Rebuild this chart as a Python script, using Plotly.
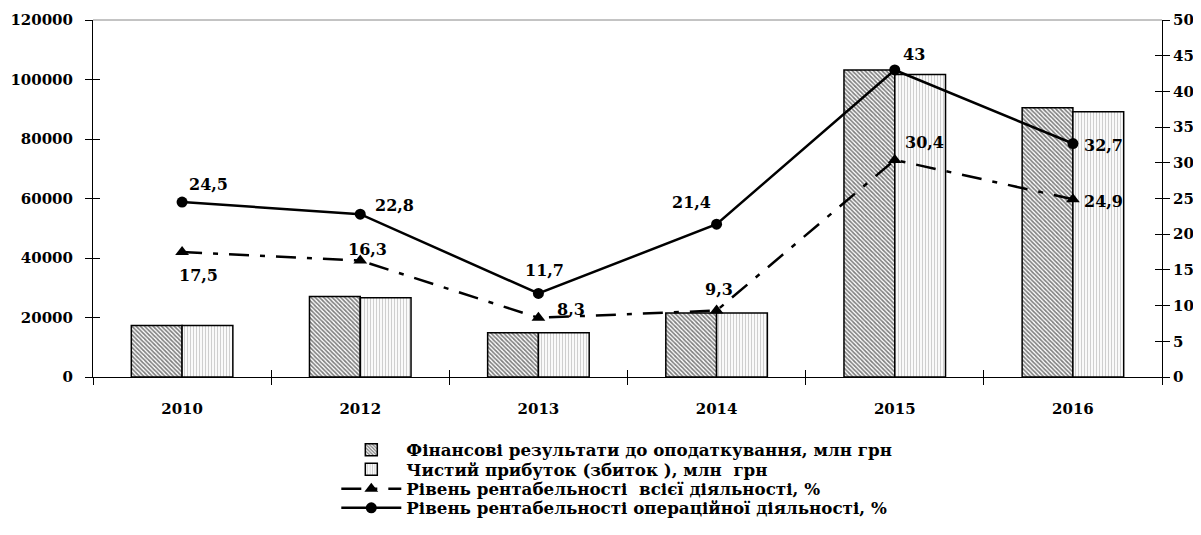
import plotly.graph_objects as go

years = ["2010", "2012", "2013", "2014", "2015", "2016"]
fin_results = [17300, 27100, 14900, 21500, 103200, 90500]
net_profit = [17300, 26600, 14900, 21500, 101700, 89200]
rent_all = [17.5, 16.3, 8.3, 9.3, 30.4, 24.9]
rent_oper = [24.5, 22.8, 11.7, 21.4, 43, 32.7]

name_fin = "Фінансові результати до оподаткування, млн грн"
name_net = "Чистий прибуток (збиток ), млн  грн"
name_all = "Рівень рентабельності  всієї діяльності, %"
name_oper = "Рівень рентабельності операційної діяльності, %"

# label offsets from their point, in pixels (dx, dy with +dy = up)
off_all = [(16, -23), (7, 11), (33, 8), (2, 21), (30, 17), (31, -2)]
off_oper = [(26, 18), (34, 9), (6, 23), (-25, 22), (19, 15), (31, -2)]

def fmt(v):
    return (f"{v:g}").replace(".", ",")

FONT = "DejaVu Serif"
TICKF = dict(family=FONT, size=15, color="black", weight="bold")
LABF = dict(family=FONT, size=16, color="black", weight="bold")
LEGF = dict(family=FONT, size=16.7, color="black", weight="bold")
DASHDOT = "20px,11px,5px,11px"

fig = go.Figure()
fig.add_trace(go.Bar(
    x=years, y=fin_results, name=name_fin, legend="legend",
    marker=dict(color="white", line=dict(color="black", width=1.5),
                pattern=dict(shape="\\", fgcolor="black", bgcolor="white", size=3, solidity=0.55)),
))
fig.add_trace(go.Bar(
    x=years, y=net_profit, name=name_net, legend="legend2",
    marker=dict(color="white", line=dict(color="black", width=1.5),
                pattern=dict(shape="|", fgcolor="#a0a0a0", bgcolor="white", size=3, solidity=0.4)),
))
fig.add_trace(go.Scatter(
    x=years, y=rent_all, name=name_all, yaxis="y2", legend="legend3",
    mode="lines+markers",
    line=dict(color="black", width=2.5, dash=DASHDOT),
    marker=dict(symbol="triangle-up", size=12, color="black"),
))
fig.add_trace(go.Scatter(
    x=years, y=rent_oper, name=name_oper, yaxis="y2", legend="legend4",
    mode="lines+markers",
    line=dict(color="black", width=2.5),
    marker=dict(symbol="circle", size=11, color="black"),
))
# helper traces so the inner halves of the crossing tick marks get drawn
fig.add_trace(go.Scatter(x=[None], y=[None], xaxis="x2", yaxis="y3", showlegend=False, hoverinfo="skip"))
fig.add_trace(go.Scatter(x=[None], y=[None], xaxis="x2", yaxis="y4", showlegend=False, hoverinfo="skip"))

annotations = []
for vals, offs in ((rent_all, off_all), (rent_oper, off_oper)):
    for i, (v, (dx, dy)) in enumerate(zip(vals, offs)):
        # category axis: position by category index
        annotations.append(dict(x=i, y=v, xref="x", yref="y2", text=fmt(v),
                                showarrow=False, xanchor="center", yanchor="middle",
                                xshift=dx, yshift=dy, font=LABF))

def leg(y):
    return dict(x=0.2276, y=y, xanchor="left", yanchor="middle", font=LEGF,
                itemwidth=60, bgcolor="rgba(0,0,0,0)", borderwidth=0)

# page body has an 8px default margin, so the figure is 8px smaller on each axis
fig.update_layout(
    width=1193, height=527,
    margin=dict(l=85, r=39, t=12, b=158, autoexpand=False),
    paper_bgcolor="white", plot_bgcolor="white",
    barmode="group", bargap=0.43, bargroupgap=0,
    font=dict(family=FONT, color="black"),
    xaxis=dict(type="category", categoryorder="array", categoryarray=years,
               range=[-0.5, len(years) - 0.5],
               tickson="boundaries", ticks="outside", ticklen=7,
               tickcolor="black", showline=True, linecolor="black", linewidth=1,
               showgrid=False, tickfont=TICKF, ticklabelstandoff=18),
    xaxis2=dict(overlaying="x", anchor="y", range=[-0.5, len(years) - 0.5],
                tickvals=[0.5, 1.5, 2.5, 3.5, 4.5], ticks="inside", ticklen=7,
                tickcolor="black", showticklabels=False, showgrid=False,
                zeroline=False, showline=False),
    yaxis=dict(range=[0, 120000], dtick=20000, tickformat="d", ticks="outside", ticklen=7,
               tickcolor="black", showline=True, linecolor="black", linewidth=1,
               showgrid=False, zeroline=False, tickfont=TICKF, ticklabelstandoff=9),
    yaxis2=dict(overlaying="y", side="right", range=[0, 50], dtick=5,
                ticks="outside", ticklen=7, tickcolor="black", showline=True,
                linecolor="black", linewidth=1, showgrid=False, zeroline=False,
                tickfont=TICKF, ticklabelstandoff=0),
    yaxis3=dict(overlaying="y", anchor="x2", range=[0, 120000], dtick=20000,
                ticks="inside", ticklen=7, tickcolor="black", showticklabels=False,
                showgrid=False, zeroline=False, showline=False),
    yaxis4=dict(overlaying="y", anchor="x2", side="right", range=[0, 50], dtick=5,
                ticks="inside", ticklen=7, tickcolor="black", showticklabels=False,
                showgrid=False, zeroline=False, showline=False),
    legend=leg(-0.2045),
    legend2=leg(-0.259),
    legend3=leg(-0.3137),
    legend4=leg(-0.367),
    showlegend=True,
    annotations=annotations,
    shapes=[dict(type="line", xref="paper", yref="paper", x0=0, x1=1, y0=1, y1=1,
                 line=dict(color="#888", width=1))],
)

fig.write_html("out.html")
